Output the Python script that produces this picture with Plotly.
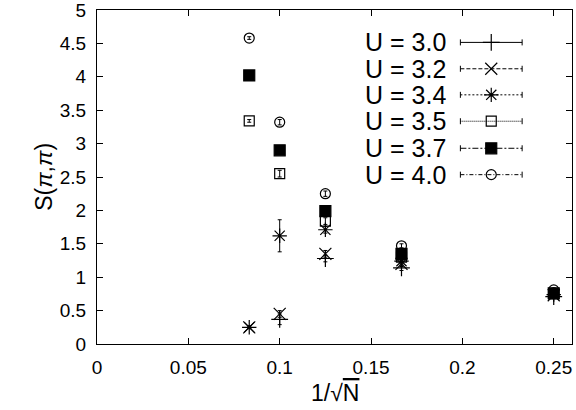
import plotly.graph_objects as go

inv_sqrt_n = [0.25, 1/6, 0.125, 0.1, 1/12]

u_labels = ["U = 3.0", "U = 3.2", "U = 3.4", "U = 3.5", "U = 3.7", "U = 4.0"]
s_u30 = [0.71, 1.14, 1.28, 0.37, None]
s_u32 = [0.73, 1.20, 1.35, 0.45, 0.25]
s_u34 = [0.74, 1.24, 1.71, 1.62, 0.25]
s_u35 = [0.75, 1.30, 1.84, 2.55, 3.34]
s_u37 = [0.76, 1.35, 1.99, 2.90, 4.02]
s_u40 = [0.81, 1.47, 2.25, 3.32, 4.58]

e_u30 = [0.03, 0.04, 0.05, 0.08, 0]
e_u32 = [0.03, 0.04, 0.05, 0.05, 0.02]
e_u34 = [0.03, 0.04, 0.05, 0.24, 0.02]
e_u35 = [0.03, 0.04, 0.05, 0.05, 0.02]
e_u37 = [0.03, 0.04, 0.04, 0.05, 0.02]
e_u40 = [0.03, 0.03, 0.04, 0.04, 0.02]

series = [s_u30, s_u32, s_u34, s_u35, s_u37, s_u40]
errors = [e_u30, e_u32, e_u34, e_u35, e_u37, e_u40]
symbols = ["cross-thin-open", "x-thin-open", "asterisk-open", "square-open", "square", "circle-open"]
sizes = [12, 12, 12, 10, 11, 10]
dashes = ["solid", "4px,2px", "2px,2px", "1px,1px", "6px,2px,2px,2px", "4px,2px,1px,2px"]

x_ticks = [0, 0.05, 0.1, 0.15, 0.2, 0.25]
x_tick_text = ["0", "0.05", "0.1", "0.15", "0.2", "0.25"]
y_ticks = [0, 0.5, 1, 1.5, 2, 2.5, 3, 3.5, 4, 4.5, 5]
y_tick_text = ["0", "0.5", "1", "1.5", "2", "2.5", "3", "3.5", "4", "4.5", "5"]

fig = go.Figure()
for lab, s, e, sym, sz in zip(u_labels, series, errors, symbols, sizes):
    xs = [x for x, v in zip(inv_sqrt_n, s) if v is not None]
    ys = [v for v in s if v is not None]
    es = [ee for ee, v in zip(e, s) if v is not None]
    fig.add_trace(go.Scatter(
        x=xs, y=ys, mode="markers", name=lab, showlegend=False,
        marker=dict(symbol=sym, size=sz, color="black", line=dict(color="black", width=1.2)),
        error_y=dict(type="data", array=es, visible=True, color="black", thickness=1, width=2),
    ))

# custom gnuplot-style legend (text left, sample right)
row_y = [0.903, 0.824, 0.746, 0.667, 0.586, 0.507]
for lab, sym, sz, dash, ry in zip(u_labels, symbols, sizes, dashes, row_y):
    fig.add_shape(type="line", xref="x2", yref="y2", x0=0.765, x1=0.895, y0=ry, y1=ry,
                  line=dict(color="black", width=1, dash=dash))
    for xe in (0.765, 0.895):
        fig.add_shape(type="line", xref="x2", yref="y2", x0=xe, x1=xe, y0=ry - 0.009, y1=ry + 0.009,
                      line=dict(color="black", width=1))
    fig.add_trace(go.Scatter(x=[0.83], y=[ry], xaxis="x2", yaxis="y2", mode="markers", showlegend=False,
                             marker=dict(symbol=sym, size=sz, color="black", line=dict(color="black", width=1.2)),
                             hoverinfo="skip"))
    fig.add_annotation(x=0.738, y=ry, xref="x2", yref="y2", text=lab, showarrow=False,
                       xanchor="right", yanchor="middle", height=22, font=dict(size=25, color="black"))

# axis titles
fig.add_annotation(x=-0.112, y=0.5, xref="paper", yref="paper", text="S(<i>π</i>,<i>π</i>)",
                   showarrow=False, textangle=-90, xanchor="center", yanchor="middle",
                   font=dict(size=23, color="black"))
fig.add_annotation(x=0.5, y=-0.147, xref="paper", yref="paper",
                   text="1/√<span style='text-decoration:overline'>N</span>",
                   showarrow=False, xanchor="center", yanchor="middle",
                   font=dict(size=23, color="black"))

axis_common = dict(showgrid=False, zeroline=False, showline=True, linecolor="black", linewidth=1,
                   mirror="ticks", ticks="inside", ticklen=6, tickcolor="black", automargin=False,
                   ticklabeloverflow="allow", tickfont=dict(size=19, color="black"))
fig.update_layout(
    width=576, height=410,
    margin=dict(l=97, r=4, t=10, b=66),
    paper_bgcolor="white", plot_bgcolor="white",
    font=dict(family="Liberation Sans, Arial, sans-serif", color="black"),
    xaxis=dict(range=[0, 0.26], tickvals=x_ticks, ticktext=x_tick_text, ticklabelstandoff=6, **axis_common),
    yaxis=dict(range=[0, 5], tickvals=y_ticks, ticktext=y_tick_text, ticklabelstandoff=6, **axis_common),
    xaxis2=dict(range=[0, 1], overlaying="x", visible=False, fixedrange=True),
    yaxis2=dict(range=[0, 1], overlaying="y", visible=False, fixedrange=True),
)
fig.write_html("out.html")
